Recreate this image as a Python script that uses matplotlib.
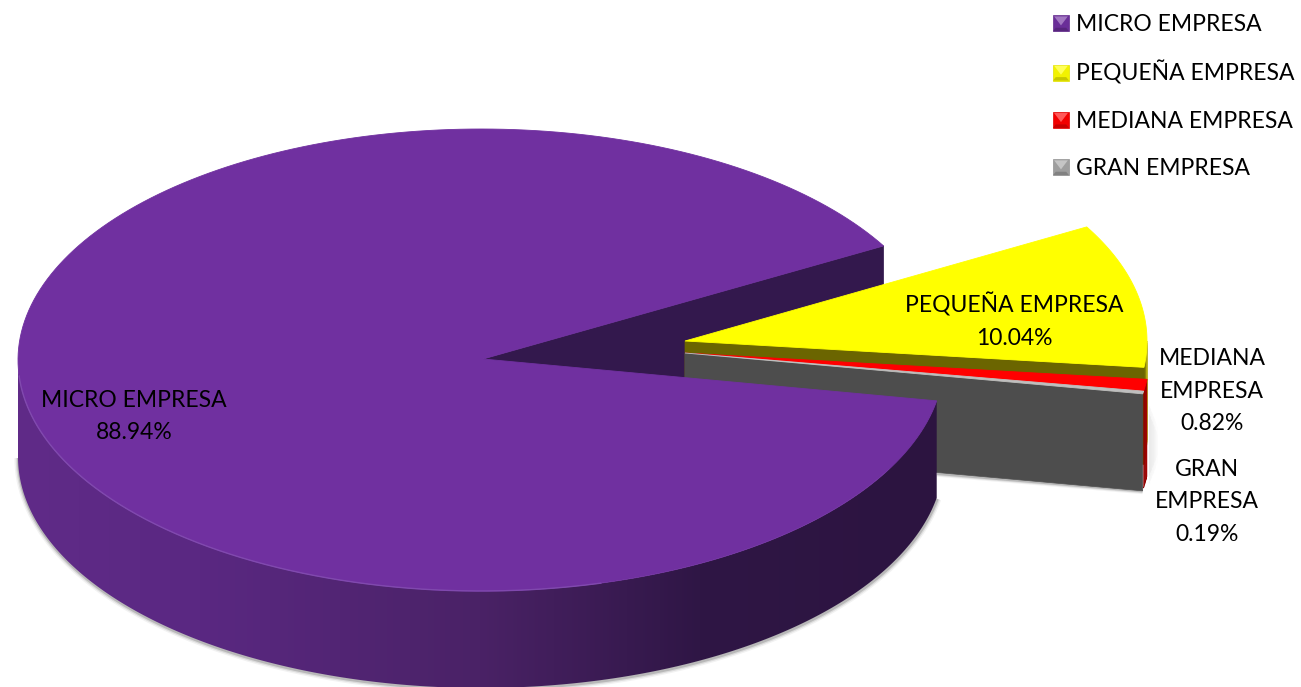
import numpy as np
import matplotlib
matplotlib.use("Agg")
import matplotlib.pyplot as plt
from matplotlib.patches import Polygon, Patch
from matplotlib.colors import to_rgb
from matplotlib.legend_handler import HandlerBase

plt.rcParams['font.family'] = ['Lato', 'DejaVu Sans']

categories = ["MICRO EMPRESA", "PEQUEÑA EMPRESA", "MEDIANA EMPRESA", "GRAN EMPRESA"]
values = [88.94, 10.04, 0.82, 0.19]
slice_colors = ["#7030A0", "#FFFF00", "#FF0000", "#BFBFBF"]
legend_colors = ["#7030A0", "#FFFF00", "#FF0000", "#A6A6A6"]
label_texts = ["MICRO EMPRESA", "PEQUEÑA EMPRESA", "MEDIANA\nEMPRESA", "GRAN\nEMPRESA"]

W, H = 1301, 687
B, DEPTH = 231.0, 97.0
START = 29.6
# arc centre, wedge tip, horizontal radius of each slice
centers = [(481, 360), (685, 341), (685, 353), (685, 353)]
tips = [(483, 359), (685, 341), (685, 353), (685, 353)]
radii = [463.0, 462.0, 465.0, 465.0]
label_pos = [(134, 416.5), (1014, 321), (1212, 391), (1207, 502)]

fig = plt.figure(figsize=(W / 100, H / 100), dpi=100)
ax = fig.add_axes([0, 0, 1, 1])
ax.set_xlim(0, W)
ax.set_ylim(H, 0)
ax.axis("off")


def arc(i, a0, a1, n=240):
    t = np.radians(np.linspace(a0, a1, n))
    c = centers[i]
    return np.column_stack([c[0] + radii[i] * np.cos(t), c[1] - B * np.sin(t)])


def top_face(i, a0, a1, color, z):
    xy = np.vstack([[tips[i]], arc(i, a0, a1)])
    ax.add_patch(Polygon(xy, closed=True, fc=color, ec=color, lw=0.6, zorder=z))


def cut_wall(i, deg, color, z):
    c = tips[i]
    p = arc(i, deg, deg, 1)[0]
    xy = [c, p, (p[0], p[1] + DEPTH), (c[0], c[1] + DEPTH)]
    ax.add_patch(Polygon(xy, closed=True, fc=color, ec=color, lw=0.5, zorder=z))


def outer_wall(i, a0, a1, c0, c1, z, n=12):
    edges = np.linspace(a0, a1, n + 1)
    c0, c1 = np.array(to_rgb(c0)), np.array(to_rgb(c1))
    for k in range(n):
        seg = arc(i, edges[k], edges[k + 1], 4)
        xy = np.vstack([seg, seg[::-1] + [0, DEPTH]])
        col = tuple(c0 + (c1 - c0) * k / max(n - 1, 1))
        ax.add_patch(Polygon(xy, closed=True, fc=col, ec=col, lw=0.4, zorder=z))


def gradient_wall(i, a0, a1, stops, z):
    seg = arc(i, a0, a1)
    patch = Polygon(np.vstack([seg, seg[::-1] + [0, DEPTH]]), closed=True, fc="none", ec="none",
                    transform=ax.transData)
    ax.add_patch(patch)
    xs = np.arange(W)
    pos = [s[0] for s in stops]
    cols = np.array([to_rgb(s[1]) for s in stops])
    img = np.stack([np.interp(xs, pos, cols[:, k]) for k in range(3)], axis=1)[None, :, :]
    im = ax.imshow(img, extent=(0, W, H, 0), aspect="auto", zorder=z, interpolation="bilinear")
    im.set_clip_path(patch)
    ax.set_xlim(0, W)
    ax.set_ylim(H, 0)


# slice angles, running clockwise from the micro slice's far edge
sweeps = [v / sum(values) * 360 for v in values]
peq_a0 = START
peq_a1 = peq_a0 - sweeps[1]
med_a1 = peq_a1 - sweeps[2]
gran_a1 = med_a1 - sweeps[3]
mic_a0, mic_a1 = START, 360 + gran_a1

# soft shadows
p_g = arc(3, gran_a1, gran_a1, 1)[0]
p_m = arc(0, mic_a1, mic_a1, 1)[0]
rim = arc(0, 180, mic_a1)
for lw, al in [(6, 0.05), (4, 0.09), (2.2, 0.16)]:
    ax.plot(rim[:, 0] + 0.5, rim[:, 1] + DEPTH + 1, color="k", lw=lw, alpha=al, zorder=1,
            solid_capstyle="butt")
    ax.plot([p_m[0], p_g[0]], [p_g[1] + DEPTH - 17, p_g[1] + DEPTH + 0.5], color="k", lw=lw * 0.7,
            alpha=al, zorder=1, solid_capstyle="butt")
for dx in range(0, 9):
    shrink = dx * 2.5
    for inset, al in [(0, 0.03), (8, 0.04)]:
        ax.plot([p_g[0] + 6 + dx] * 2,
                [p_g[1] + 12 + shrink + inset, p_g[1] + DEPTH - 8 - shrink - inset],
                color="k", lw=0.9, alpha=al * (1 - dx / 10), zorder=1, solid_capstyle="butt")

# main slice far cut wall
cut_wall(0, mic_a0, "#33184D", 2)

# yellow slice
outer_wall(1, peq_a1, 0, "#6B6500", "#B5AE10", 3)
cut_wall(1, peq_a1, "#6B6500", 4)
top_face(1, peq_a0, peq_a1, slice_colors[1], 5)

# red slice
outer_wall(2, med_a1, peq_a1, "#8A0000", "#A00000", 6, n=4)
top_face(2, peq_a1, med_a1, slice_colors[2], 7)

# grey slice
cut_wall(3, gran_a1, "#4D4D4D", 8)
top_face(3, med_a1, gran_a1, slice_colors[3], 9)

# main slice
gradient_wall(0, 180, mic_a1,
              [(18, "#602B88"), (200, "#5A2882"), (480, "#4A2266"), (700, "#2F1645"), (937, "#2C1440")], 10)
top_face(0, mic_a0, mic_a1, slice_colors[0], 11)
front = arc(0, 184, 285)
ax.plot(front[:, 0], front[:, 1], color="#8049AE", lw=1.0, zorder=12)

# data labels
for name, val, (x, y) in zip(label_texts, values, label_pos):
    ax.text(x, y, f"{name}\n{val:.2f}%", ha="center", va="center", fontsize=16.5,
            color="black", linespacing=1.68, zorder=20)


class BevelHandler(HandlerBase):
    def create_artists(self, legend, orig, xd, yd, w, h, fs, trans):
        col = np.array(to_rgb(orig.get_facecolor()))
        s = 11.5
        x0, y0 = -xd, -yd + (h - s) / 2
        lt = tuple(np.clip(col + (1 - col) * 0.35, 0, 1))
        dk = tuple(col * 0.78)
        ms = tuple(col * 0.95)
        box = Polygon([[x0, y0], [x0 + s, y0], [x0 + s, y0 + s], [x0, y0 + s]], fc=ms, ec=tuple(col * 0.88),
                      lw=0.5, transform=trans)
        low = Polygon([[x0, y0], [x0 + s, y0], [x0 + s - 2, y0 + 2.5], [x0 + 2, y0 + 2.5]], fc=dk, ec="none",
                      transform=trans)
        up = Polygon([[x0 + 0.8, y0 + s - 0.8], [x0 + s - 0.8, y0 + s - 0.8], [x0 + s / 2, y0 + 4.2]], fc=lt,
                     ec="none", transform=trans)
        return [box, low, up]


handles = [Patch(facecolor=c, label=n) for c, n in zip(legend_colors, categories)]
leg = ax.legend(handles=handles, handler_map={Patch: BevelHandler()}, loc="upper left",
                bbox_to_anchor=(1053 / W, 1 - 13 / H), frameon=False, fontsize=16.5,
                labelspacing=1.1, handlelength=1.0, handleheight=1.0, handletextpad=0.0,
                borderpad=0, borderaxespad=0)
leg.set_zorder(30)

fig.savefig("out.png", dpi=100)
